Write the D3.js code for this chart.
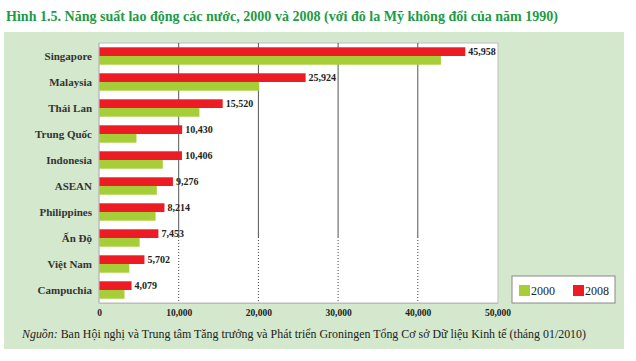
<!DOCTYPE html>
<html><head><meta charset="utf-8">
<script src="https://cdn.jsdelivr.net/npm/d3@7"></script>
<style>body{margin:0;background:#fff}svg{display:block}
svg text{font-family:"Liberation Serif","Times New Roman",serif}</style>
</head><body>
<svg id="c" width="636" height="361"></svg>
<script>
const categories = ["Singapore","Malaysia","Thái Lan","Trung Quốc","Indonesia","ASEAN","Philippines","Ấn Độ","Việt Nam","Campuchia"];
const values2008 = [45958,25924,15520,10430,10406,9276,8214,7453,5702,4079];
const values2000 = [42900,20100,12600,4700,8000,7250,7100,5100,3800,3200];
const seriesNames = ["2008","2000"];
const seriesColors = {"2008":"#ED1C24","2000":"#A6CE39"};
const xTicks = [0,10000,20000,30000,40000,50000];
const titleText = "Hình 1.5. Năng suất lao động các nước, 2000 và 2008 (với đô la Mỹ không đổi của năm 1990)";

const svg = d3.select("#c");

// title
svg.append("text").attr("x",6).attr("y",21)
  .style("font-weight","bold").style("font-size","15px")
  .attr("fill","#1E9A46").attr("textLength",552).attr("lengthAdjust","spacingAndGlyphs")
  .text(titleText);

// panel
svg.append("rect").attr("x",4).attr("y",32).attr("width",620).attr("height",317).attr("fill","#D3E8CC");

const L=99,R=498,T=43,B=303;
const x = d3.scaleLinear().domain([0,50000]).range([L,L+398.5]);
const y = d3.scaleBand().domain(categories).range([T,B]).paddingInner(0.33).paddingOuter(0.165);
const ys = d3.scaleBand().domain(seriesNames).range([0,y.bandwidth()]);

svg.append("rect").attr("x",L).attr("y",T).attr("width",R-L).attr("height",B-T)
  .attr("fill","#fff").attr("stroke","#BDBDBD").attr("stroke-width",1);

// gridlines: solid upper part, dotted lower part
const split = 237;
const g = svg.append("g");
xTicks.slice(1,-1).forEach(t=>{
  g.append("line").attr("x1",x(t)).attr("x2",x(t)).attr("y1",T).attr("y2",split)
    .attr("stroke","#555").attr("stroke-width",1);
  g.append("line").attr("x1",x(t)).attr("x2",x(t)).attr("y1",split).attr("y2",B)
    .attr("stroke","#444").attr("stroke-width",1).attr("stroke-dasharray","1,2");
});

// bars
const data = categories.map((c,i)=>({c, "2008":values2008[i], "2000":values2000[i]}));
const rows = svg.append("g").selectAll("g").data(data).join("g")
  .attr("transform",d=>`translate(0,${y(d.c)})`);
seriesNames.forEach(s=>{
  rows.append("rect").attr("x",x(0)).attr("y",ys(s))
    .attr("width",d=>x(d[s])-x(0)).attr("height",ys.bandwidth())
    .attr("fill",seriesColors[s]);
});
rows.append("text").attr("x",d=>x(d["2008"])+3).attr("y",ys("2008")+ys.bandwidth()/2)
  .attr("dy","0.35em").style("font-weight","bold")
  .style("font-size","10px").attr("fill","#222").text(d=>d3.format(",")(d["2008"]));

// left axis line
svg.append("line").attr("x1",L).attr("x2",L).attr("y1",T).attr("y2",B).attr("stroke","#BDBDBD");

// category labels
const yAxis = svg.append("g").attr("transform",`translate(${L},0)`)
  .call(d3.axisLeft(y).tickSize(0).tickPadding(7));
yAxis.attr("font-family",null);
yAxis.select(".domain").remove();
yAxis.selectAll("text").style("font-weight","bold")
  .style("font-size","11px").attr("fill","#333");

// x axis
const xAxis = svg.append("g").attr("transform",`translate(0,${B})`)
  .call(d3.axisBottom(x).tickValues(xTicks).tickSize(0).tickPadding(6).tickFormat(d3.format(",")));
xAxis.attr("font-family",null);
xAxis.select(".domain").attr("stroke","#BDBDBD");
xAxis.selectAll("text").style("font-weight","bold")
  .style("font-size","9.5px").attr("fill","#222");

// legend
const lg = svg.append("g").attr("transform","translate(512,276)");
lg.append("rect").attr("width",103).attr("height",27).attr("fill","#fff").attr("stroke","#888");
[["2000",7],["2008",61]].forEach(([s,dx])=>{
  lg.append("rect").attr("x",dx).attr("y",9).attr("width",11).attr("height",11).attr("fill",seriesColors[s]);
  lg.append("text").attr("x",dx+12).attr("y",19)
    .style("font-size","12px").attr("fill","#222").text(s);
});

// source
const src = svg.append("text").attr("x",22).attr("y",338)
  .style("font-size","12.5px").attr("fill","#222")
  .attr("textLength",564).attr("lengthAdjust","spacingAndGlyphs");
src.append("tspan").style("font-style","italic").text("Nguồn:");
src.append("tspan").style("font-style","normal").text(" Ban Hội nghị và Trung tâm Tăng trưởng và Phát triển Groningen Tổng Cơ sở Dữ liệu Kinh tế (tháng 01/2010)");
</script>
</body></html>
